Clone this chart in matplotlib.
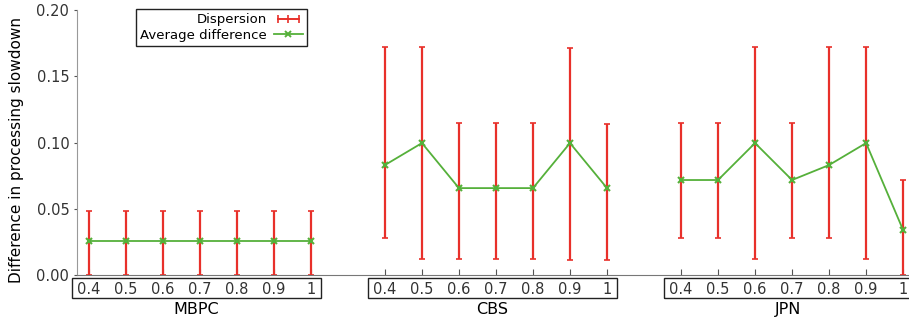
# Difference in processing slowdown per group (MBPC / CBS / JPN)
import matplotlib.pyplot as plt
from matplotlib.lines import Line2D
from matplotlib.patches import Rectangle
from matplotlib.legend_handler import HandlerLine2D
import matplotlib.transforms as mtransforms

# Data
groups = ["MBPC", "CBS", "JPN"]
params = ["0.4", "0.5", "0.6", "0.7", "0.8", "0.9", "1"]

mbpc_mean = [0.0255, 0.0255, 0.0255, 0.0255, 0.0255, 0.0255, 0.0255]
mbpc_low = [0.0, 0.0, 0.0, 0.0, 0.0, 0.0, 0.0]
mbpc_high = [0.048, 0.048, 0.048, 0.048, 0.048, 0.048, 0.048]

cbs_mean = [0.083, 0.0996, 0.0656, 0.0656, 0.0656, 0.0996, 0.0656]
cbs_low = [0.028, 0.012, 0.012, 0.012, 0.012, 0.0113, 0.011]
cbs_high = [0.172, 0.172, 0.1147, 0.1147, 0.1147, 0.171, 0.114]

jpn_mean = [0.0717, 0.0717, 0.0996, 0.0717, 0.083, 0.0996, 0.034]
jpn_low = [0.028, 0.028, 0.012, 0.028, 0.028, 0.012, 0.0]
jpn_high = [0.1147, 0.1147, 0.172, 0.1147, 0.172, 0.172, 0.0717]

means = mbpc_mean + cbs_mean + jpn_mean
lows = mbpc_low + cbs_low + jpn_low
highs = mbpc_high + cbs_high + jpn_high

red = "#e8302a"
green = "#55b03a"

# positions: 7 per group, one empty slot between groups
xs = []
for g in range(len(groups)):
    xs += [g * (len(params) + 1) + i for i in range(len(params))]

fig = plt.figure(figsize=(9.09, 3.2), dpi=100)
ax = fig.add_axes([0.0847, 0.1406, 0.9153, 0.828])

yerr = [[m - lo for m, lo in zip(means, lows)], [hi - m for m, hi in zip(means, highs)]]
ax.errorbar(xs, means, yerr=yerr, fmt="none", ecolor=red, elinewidth=1.6,
            capsize=2.5, capthick=1.2, zorder=2)

# line per group
for g in range(len(groups)):
    sl = slice(g * len(params), (g + 1) * len(params))
    ax.plot(xs[sl], means[sl], color=green, lw=1.3, marker="x", ms=4.5,
            mew=1.5, zorder=3)

ax.set_xlim(-0.32, 22.16)
ax.set_ylim(0, 0.2)
ax.set_yticks([0, 0.05, 0.10, 0.15, 0.20])
ax.set_yticklabels(["0.00", "0.05", "0.10", "0.15", "0.20"], fontsize=10.5, color="#333333")
ax.set_xticks(xs)
ax.set_xticklabels(params * len(groups), fontsize=10.5, color="#333333")
ax.tick_params(axis="x", direction="in", length=4, width=0.8, color="#555555", pad=5)
ax.tick_params(axis="y", direction="out", length=2.5, width=0.8, color="#555555", pad=3)
ax.spines["top"].set_visible(False)
ax.spines["right"].set_visible(False)
ax.spines["left"].set_color("#999999")
ax.spines["bottom"].set_color("#777777")
ax.set_ylabel("Difference in processing slowdown", fontsize=11)
ax.yaxis.set_label_coords(-0.064, 0.47)

# boxes around tick labels, group names below
trans = mtransforms.blended_transform_factory(ax.transData, ax.transAxes)
for g, name in enumerate(groups):
    x0 = g * (len(params) + 1) - 0.46
    x1 = g * (len(params) + 1) + len(params) - 1 + 0.26
    ax.add_patch(Rectangle((x0, -0.087), x1 - x0, 0.076, transform=trans,
                           fill=False, ec="#222222", lw=1.0, clip_on=False))
    ax.text((x0 + x1) / 2, -0.102, name, transform=trans, ha="center",
            va="top", fontsize=11.5)

disp = Line2D([], [], color=red, lw=1.4, marker="|", ms=6, mew=1.2)
avg = Line2D([], [], color=green, lw=1.3, marker="x", ms=4, mew=1.4)
leg = ax.legend([disp, avg], ["Dispersion", "Average difference"],
                loc="upper right", bbox_to_anchor=(0.284, 1.027),
                markerfirst=False, fontsize=9.5, fancybox=False,
                edgecolor="#222222", framealpha=1, borderpad=0.3,
                labelspacing=0.2, handlelength=2.2, handletextpad=0.5,
                handler_map={disp: HandlerLine2D(numpoints=3),
                             avg: HandlerLine2D(numpoints=1)})
leg.get_frame().set_linewidth(1.0)
for t in leg.get_texts():
    t.set_ha("right")

fig.savefig("out.png", dpi=100)
